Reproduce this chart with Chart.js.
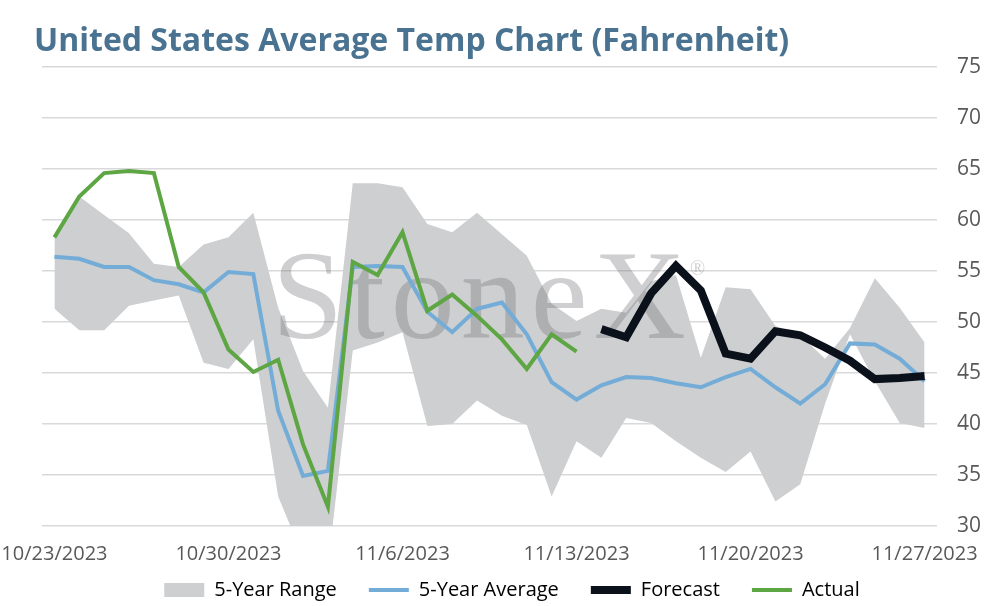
<!DOCTYPE html>
<html>
<head>
<meta charset="utf-8">
<script src="https://cdn.jsdelivr.net/npm/chart.js@4/dist/chart.umd.min.js"></script>
<style>
  body { margin: 0; background: #fff; }
  #wrap { position: relative; width: 994px; height: 606px; }
  #titulo {
    position: absolute; left: 34px; top: 17px; margin: 0; line-height: 1;
    font: bold 32px "Open Sans", Lato, sans-serif; color: #4A7391;
  }
  canvas { position: absolute; left: 0; top: 0; }
</style>
</head>
<body>
<div id="wrap">
  <canvas id="grafico" width="994" height="606"></canvas>
  <h1 id="titulo">United States Average Temp Chart (Fahrenheit)</h1>
</div>
<script>
const dias = [
  "10/23/2023", "10/24/2023", "10/25/2023", "10/26/2023", "10/27/2023", "10/28/2023", "10/29/2023",
  "10/30/2023", "10/31/2023", "11/1/2023", "11/2/2023", "11/3/2023", "11/4/2023", "11/5/2023",
  "11/6/2023", "11/7/2023", "11/8/2023", "11/9/2023", "11/10/2023", "11/11/2023", "11/12/2023",
  "11/13/2023", "11/14/2023", "11/15/2023", "11/16/2023", "11/17/2023", "11/18/2023", "11/19/2023",
  "11/20/2023", "11/21/2023", "11/22/2023", "11/23/2023", "11/24/2023", "11/25/2023", "11/26/2023",
  "11/27/2023"
];

// 5-year range (min / max)
const faixaMin = [51.3, 49.2, 49.2, 51.6, 52.1, 52.6, 46.0, 45.4, 48.3, 32.9, 27.0, 26.0,
  47.2, 48.0, 49.0, 39.8, 40.0, 42.3, 40.8, 39.9, 32.9, 38.3, 36.7, 40.6,
  40.1, 38.3, 36.7, 35.3, 37.3, 32.4, 34.1, 42.0, 48.8, 44.2, 40.1, 39.6];
const faixaMax = [58.4, 62.3, 60.5, 58.7, 55.7, 55.4, 57.6, 58.3, 60.7, 51.4, 45.2, 41.6,
  63.6, 63.6, 63.2, 59.6, 58.8, 60.7, 58.6, 56.5, 51.8, 50.1, 51.3, 50.9,
  54.0, 54.6, 46.5, 53.4, 53.2, 49.6, 48.7, 46.4, 49.4, 54.3, 51.4, 48.0];

const media5 = [56.4, 56.2, 55.4, 55.4, 54.1, 53.7, 52.9, 54.9, 54.7, 41.3, 34.9, 35.4,
  55.4, 55.5, 55.4, 51.0, 49.0, 51.3, 51.9, 48.8, 44.1, 42.4, 43.8, 44.6,
  44.5, 44.0, 43.6, 44.6, 45.4, 43.6, 42.0, 43.9, 47.9, 47.8, 46.4, 44.2];

const previsao = [null, null, null, null, null, null, null, null, null, null, null, null,
  null, null, null, null, null, null, null, null, null, null, 49.3, 48.5,
  52.8, 55.5, 53.1, 46.9, 46.4, 49.1, 48.7, 47.5, 46.2, 44.4, 44.5, 44.7];

const real = [58.3, 62.3, 64.6, 64.8, 64.6, 55.4, 52.9, 47.3, 45.1, 46.3, 38.0, 31.9,
  55.9, 54.6, 58.8, 51.1, 52.7, 50.6, 48.3, 45.4, 48.8, 47.1, null, null,
  null, null, null, null, null, null, null, null, null, null, null, null];

const cinza = "#CDCFD0";
const azul = "#74ACD8";
const preto = "#0B111B";
const verde = "#5EA544";
const corTexto = "#595959";
const fonte = "'Open Sans', Lato, sans-serif";

// marca d'agua depois da faixa, antes das linhas
const marcaDagua = {
  id: "marcaDagua",
  afterDatasetDraw(chart, args) {
    if (args.index !== 1) return;
    const c = chart.ctx;
    c.save();
    c.fillStyle = "rgba(110,110,115,0.33)";
    c.font = "128px 'Liberation Serif', 'DejaVu Serif', serif";
    c.textBaseline = "alphabetic";
    if ("letterSpacing" in c) c.letterSpacing = "6px";
    c.fillText("StoneX", 272, 338);
    c.font = "20px 'Liberation Serif', serif";
    c.fillText("®", 690, 275);
    c.restore();
  }
};

// legenda mais perto do eixo x (padding grande so p/ espacar os itens)
const subirLegenda = {
  id: "subirLegenda",
  afterLayout(chart) {
    const leg = chart.legend;
    const dy = leg.top - 548;
    leg.top -= dy;
    leg.bottom -= dy;
  }
};

const itensLegenda = [
  { text: "5-Year Range", fillStyle: cinza, strokeStyle: cinza, lineWidth: 0, pointStyle: "rect" },
  { text: "5-Year Average", fillStyle: azul, strokeStyle: azul, lineWidth: 4, pointStyle: "line" },
  { text: "Forecast", fillStyle: preto, strokeStyle: preto, lineWidth: 8, pointStyle: "line" },
  { text: "Actual", fillStyle: verde, strokeStyle: verde, lineWidth: 4, pointStyle: "line" }
];

new Chart(document.getElementById("grafico"), {
  type: "line",
  data: {
    labels: dias,
    datasets: [
      { label: "min", data: faixaMin, borderWidth: 0, pointRadius: 0, fill: false, order: 10 },
      { label: "5-Year Range", data: faixaMax, borderWidth: 0, pointRadius: 0, fill: "-1",
        backgroundColor: cinza, order: 10 },
      { label: "5-Year Average", data: media5, borderColor: azul, borderWidth: 4, pointRadius: 0, order: 3 },
      { label: "Forecast", data: previsao, borderColor: preto, borderWidth: 8, pointRadius: 0, order: 2 },
      { label: "Actual", data: real, borderColor: verde, borderWidth: 4, pointRadius: 0, order: 1 }
    ]
  },
  options: {
    responsive: false,
    animation: false,
    devicePixelRatio: 1,
    layout: { padding: { top: 67, right: 12, left: 42, bottom: -30 } },
    plugins: {
      title: { display: false },
      tooltip: { enabled: false },
      legend: {
        position: "bottom",
        labels: {
          color: corTexto,
          font: { family: fonte, size: 20 },
          usePointStyle: true,
          pointStyleWidth: 40,
          boxHeight: 14,
          padding: 32,
          generateLabels: () => itensLegenda.map(i => Object.assign({ hidden: false }, i))
        }
      }
    },
    scales: {
      x: {
        offset: true,
        grid: { display: false },
        border: { display: false },
        afterFit: (s) => { s.paddingLeft = 0; s.paddingRight = 0; },
        ticks: {
          autoSkip: false,
          maxRotation: 0,
          color: corTexto,
          font: { family: fonte, size: 20 },
          padding: 8,
          callback: function (v, i) { return i % 7 === 0 ? dias[i] : ""; }
        }
      },
      y: {
        position: "right",
        min: 30,
        max: 75,
        afterFit: (s) => { s.width = 45; },
        grid: { color: "#D9D9D9", lineWidth: 1.5, drawTicks: false },
        border: { display: false },
        ticks: {
          stepSize: 5,
          color: corTexto,
          font: { family: fonte, size: 21 },
          padding: 20
        }
      }
    }
  },
  plugins: [marcaDagua, subirLegenda]
});
</script>
</body>
</html>
